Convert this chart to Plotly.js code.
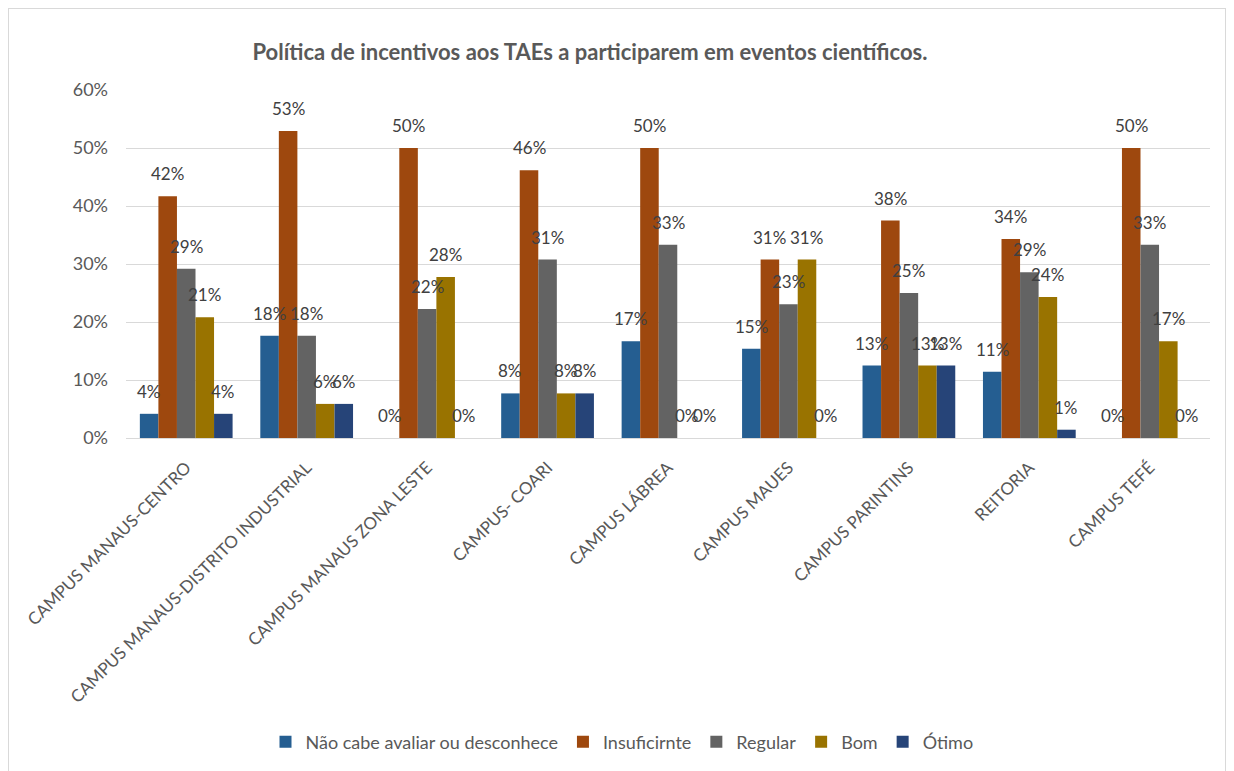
<!DOCTYPE html>
<html>
<head>
<meta charset="utf-8">
<script src="https://cdn.plot.ly/plotly-3.0.1.min.js"></script>
<style>
  html, body { margin: 0; padding: 0; background: #ffffff; }
  #frame { position: absolute; left: 8px; top: 8px; width: 1218px; height: 775px; border: 1px solid #d9d9d9; box-sizing: border-box; }
  #chart { position: absolute; left: 0; top: 0; width: 1234px; height: 771px; }
</style>
</head>
<body>
<div id="frame"></div>
<div id="chart"></div>
<script>
const categories = [
  "CAMPUS MANAUS-CENTRO",
  "CAMPUS MANAUS-DISTRITO INDUSTRIAL",
  "CAMPUS MANAUS ZONA LESTE",
  "CAMPUS- COARI",
  "CAMPUS LÁBREA",
  "CAMPUS MAUES",
  "CAMPUS PARINTINS",
  "REITORIA",
  "CAMPUS TEFÉ"
];
const seriesNames = ["Não cabe avaliar ou desconhece", "Insuficirnte", "Regular", "Bom", "Ótimo"];
const naoCabe     = [0.0417, 0.1765, 0.0000, 0.0769, 0.1667, 0.1538, 0.125, 0.1143, 0.0000];
const insuficiente= [0.4167, 0.5294, 0.5000, 0.4615, 0.5000, 0.3077, 0.375, 0.3429, 0.5000];
const regular     = [0.2917, 0.1765, 0.2222, 0.3077, 0.3333, 0.2308, 0.250, 0.2857, 0.3333];
const bom         = [0.2083, 0.0588, 0.2778, 0.0769, 0.0000, 0.3077, 0.125, 0.2429, 0.1667];
const otimo       = [0.0417, 0.0588, 0.0000, 0.0769, 0.0000, 0.0000, 0.125, 0.0143, 0.0000];
const yTicks = [0, 0.1, 0.2, 0.3, 0.4, 0.5, 0.6];
const titleText = "Política de incentivos aos TAEs a participarem em eventos científicos.";

const allSeries = [naoCabe, insuficiente, regular, bom, otimo];
const colors = ["#255E91", "#9E480E", "#636363", "#997300", "#264478"];
const FONT = "Lato, 'Open Sans', sans-serif";
const bargap = 0.23;
const barW = (1 - bargap) / allSeries.length;

const traces = allSeries.map((vals, s) => ({
  type: "bar",
  name: seriesNames[s],
  x: categories,
  y: vals,
  marker: { color: colors[s] },
  hoverinfo: "skip"
}));

const annotations = [];
allSeries.forEach((vals, s) => {
  vals.forEach((v, i) => {
    annotations.push({
      x: i + (s - (allSeries.length - 1) / 2) * barW,
      y: v,
      xref: "x", yref: "y",
      text: Math.round(v * 100) + "%",
      showarrow: false,
      xanchor: "center", yanchor: "bottom",
      yshift: 10,
      font: { family: FONT, size: 17, color: "#404040" }
    });
  });
});

const layout = {
  width: 1234, height: 771,
  margin: { l: 126, r: 24, t: 90, b: 333 },
  paper_bgcolor: "rgba(0,0,0,0)",
  plot_bgcolor: "rgba(0,0,0,0)",
  barmode: "group",
  bargap: bargap,
  bargroupgap: 0,
  title: {
    text: "<b>" + titleText + "</b>",
    x: 590 / 1234, xanchor: "center", xref: "container",
    y: 1 - 52 / 771, yanchor: "middle", yref: "container",
    font: { family: FONT, size: 22, color: "#595959" }
  },
  xaxis: {
    type: "category",
    tickangle: -45,
    tickfont: { family: FONT, size: 17, color: "#595959" },
    showgrid: false,
    showline: true, linecolor: "#d9d9d9", linewidth: 1,
    ticks: "",
    ticklabelstandoff: 12,
    automargin: false
  },
  yaxis: {
    range: [0, 0.6],
    tickvals: yTicks,
    tickformat: ".0%",
    tickfont: { family: FONT, size: 18, color: "#595959" },
    showgrid: true, gridcolor: "#d9d9d9", gridwidth: 1,
    zeroline: false,
    showline: false,
    ticks: "",
    ticklabelstandoff: 17,
    automargin: false
  },
  showlegend: true,
  legend: {
    orientation: "h",
    x: 622 / 1234, xref: "container", xanchor: "center",
    y: 1 - 742 / 771, yref: "container", yanchor: "middle",
    font: { family: FONT, size: 18, color: "#595959" },
    itemwidth: 30,
    traceorder: "normal"
  },
  annotations: annotations
};

Plotly.newPlot("chart", traces, layout, { displayModeBar: false, staticPlot: true });
</script>
</body>
</html>
